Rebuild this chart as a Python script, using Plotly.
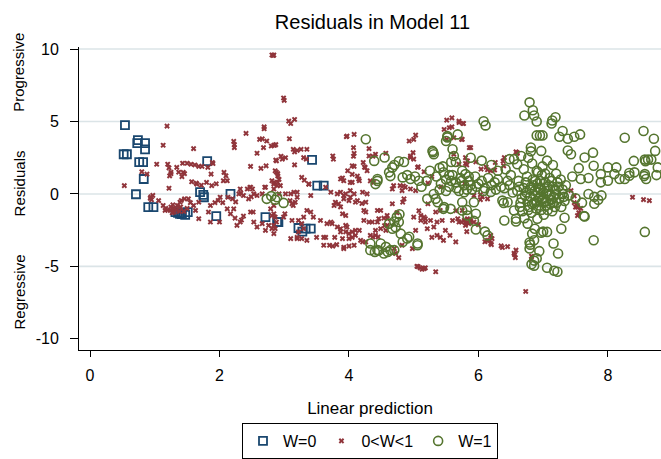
import plotly.graph_objects as go

# ---------------- data ----------------
TITLE = "Residuals in Model 11"
X_TITLE = "Linear prediction"
SIDE_LABELS = ["Progressive", "Residuals", "Regressive"]
SERIES_NAMES = ["W=0", "0<W<1", "W=1"]
Y_TICKS = [-10, -5, 0, 5, 10]
Y_TICKTEXT = ["-10", "-5", "0", "5", "10"]
X_TICKS = [0, 2, 4, 6, 8]
GRID_Y = [-5, 0, 5, 10]

# W=0 (hollow squares): (linear prediction, residual)
pts_w0 = [(0.54,4.75),(0.74,3.72),(0.85,3.5),(0.85,3.08),(0.73,3.5),(0.52,2.74),(0.57,2.74),
          (0.76,2.19),(0.82,2.19),(1.81,2.26),(0.83,1.03),(0.71,-0.02),(0.90,-0.91),(0.98,-0.91),
          (1.32,-1.25),(1.39,-1.37),(1.47,-1.44),(1.51,-1.25),(1.70,0.12),(1.75,-0.07),(1.76,-0.23),
          (2.17,0.0),(1.95,-1.53),(2.71,-1.6),(2.89,-1.94),(3.51,0.57),(3.61,0.57),(2.91,-1.94),
          (3.22,-2.35),(3.33,-2.4),(3.41,-2.4),(3.43,2.35),(1.36,-1.3),(1.42,-1.4),(3.28,-2.6)]

# 0<W<1 (small crosses)
pts_mid = [(2.81,9.59),(2.84,9.59),(2.83,9.55),
 (1.19,4.68),(1.13,3.36),(1.6,3.13),(2.41,4.18),(2.69,4.63),(2.69,4.5),(2.22,3.63),(2.23,3.4),(2.23,3.2),
 (2.62,3.77),(2.66,3.8),(2.73,3.65),(2.68,3.2),(2.8,3.31),(2.85,3.36),(2.58,2.81),(2.87,2.33),(1.03,2.05),
 (1.2,2.05),(1.22,1.8),(1.23,1.25),(1.25,1.4),(1.34,1.83),(1.43,2.12),(1.5,2.12),(1.56,2.05),(1.62,2.0),
 (1.68,1.9),(1.73,1.9),(1.44,1.49),(1.46,1.4),(1.42,1.19),(1.37,1.5),(1.25,1.5),(1.82,1.83),(1.89,2.17),
 (1.9,2.1),(1.87,1.37),(1.57,0.84),(1.64,0.75),(1.88,0.57),(2.07,1.49),(2.1,1.25),(2.06,0.91),(2.12,0.91),
 (2.48,1.9),(2.64,1.76),(2.72,1.94),(2.86,1.6),(2.9,1.4),(2.84,0.8),(2.7,0.46),(2.48,0.46),(2.32,0.34),
 (0.53,0.57),(0.8,1.53),(0.88,1.37),(1.22,0.39),
 (2.99,6.62),(3.0,6.46),(3.07,5.02),(3.1,4.86),(3.16,5.14),(3.08,3.81),(2.84,3.36),(2.87,3.4),(3.14,3.08),
 (3.2,3.0),(3.26,3.08),(3.35,3.08),(3.16,2.9),(3.02,2.5),(2.97,2.4),(2.95,2.6),(2.88,2.28),(3.16,2.01),
 (2.9,1.25),(2.92,1.0),(2.9,0.8),(2.88,1.5),(3.3,2.51),(3.34,2.4),(3.27,1.14),(3.31,0.95),(3.38,0.68),
 (3.75,2.62),(3.76,2.4),(3.96,3.95),(4.08,4.11),(4.07,3.2),(4.08,2.8),(4.07,2.6),(4.05,1.94),(4.08,1.9),
 (3.98,1.6),(4.05,1.35),(4.15,1.03),(3.87,1.03),(4.02,0.8),(4.22,2.17),(4.25,1.83),(4.31,3.13),(4.31,2.62),
 (4.28,1.6),(4.33,0.9),(4.38,0.8),(4.41,2.74),(4.57,2.81),(4.93,3.65),(5.03,4.06),(4.99,2.85),(4.95,2.51),
 (5.0,2.4),(5.07,1.87),(5.16,1.53),(5.28,1.2),(5.51,5.09),(5.59,5.25),(5.47,4.45),(5.59,4.63),(5.7,5.02),
 (5.76,4.86),(5.74,3.77),(5.51,3.77),(5.8,2.51),(5.86,3.2),(5.8,2.1),(5.7,2.05),
 (5.77,4.86),(5.75,3.77),(5.88,3.2),(5.96,2.21),(5.82,2.0),(6.04,1.71),(6.14,1.67),(6.26,2.17),(6.4,2.51),
 (6.39,1.94),(6.58,2.9),(6.6,2.8),(5.79,0.75),(6.19,1.6),(6.25,1.65),
 (1.65,0.68),(1.72,0.6),(1.8,0.8),(1.95,0.7),(0.94,-0.2),(0.97,-0.1),(0.95,-0.4),(0.93,-0.3),(1.06,-0.46),
 (1.13,-0.8),(1.17,-1.0),(1.2,-1.1),(1.24,-1.14),(1.16,-1.14),(1.25,-0.9),(1.3,-1.0),(1.33,-1.1),(1.39,-0.57),
 (1.41,-0.45),(1.52,-0.34),(1.46,-0.34),(1.6,-0.8),(1.63,-1.14),(1.68,-1.71),(1.68,-0.57),(1.86,-0.8),
 (1.83,-1.25),(1.86,-1.94),(2.0,-1.94),(1.93,-0.6),(1.98,-0.45),(2.01,-0.23),(2.05,-0.6),(2.12,-1.03),
 (2.13,-0.23),(2.2,-0.34),(2.25,-0.55),(2.22,-1.03),(2.17,-1.37),(2.24,-1.67),(2.32,-1.94),(2.27,-2.17),
 (2.34,-1.8),(2.37,-1.53),(2.3,0.0),(2.33,0.05),(2.37,-0.11),(2.43,0.34),(2.47,0.45),(2.51,0.34),(2.53,0.0),
 (2.49,-0.2),(2.45,-0.34),(2.58,-0.11),(2.48,-1.25),(2.52,-1.25),(2.53,-1.94),(2.58,-2.28),(2.66,-2.05),
 (2.71,-2.51),(2.79,-1.03),(2.84,-0.8),(2.76,-2.17),(2.81,-2.4),(2.84,-2.74),(2.66,0.0),(2.71,0.46),
 (2.84,0.68),(2.89,0.57),(2.84,0.34),(2.92,0.0),
 (1.28,-0.75),(1.35,-0.8),(1.38,-1.2),(1.3,-1.25),(1.45,-1.2),(1.5,-1.0),(1.27,-1.3),(1.4,-0.9),(1.55,-0.6),
 (2.81,0.91),(2.94,0.57),(3.02,0.0),(3.1,0.0),(3.15,0.12),(3.2,0.12),(3.2,-0.23),(3.17,-0.57),(3.12,-0.68),
 (3.14,-0.8),(3.09,-0.46),(2.84,-1.37),(2.86,-1.6),(2.81,-1.5),(2.88,-1.94),(2.84,-2.17),(2.86,-2.4),
 (2.99,-1.6),(3.01,-1.37),(3.12,-1.83),(3.22,-1.83),(3.27,-2.05),(3.3,-2.4),(3.22,-2.62),(3.2,-3.0),
 (3.27,-3.08),(3.35,-3.2),(3.1,-3.08),(3.2,-3.08),(3.5,-3.0),(3.61,-3.54),(3.7,-3.54),(3.75,-3.6),
 (3.81,-3.5),(3.92,-3.68),(4.0,-3.6),(4.08,-3.54),(4.18,-3.2),(4.26,-3.31),(4.37,-2.97),(4.45,-2.97),
 (3.61,-3.0),(3.64,-3.0),(3.78,-3.0),(3.9,-3.08),(4.0,-3.08),(4.05,-3.0),(3.3,-1.6),(3.35,-1.14),
 (3.41,-1.25),(3.45,-1.6),(3.56,-1.83),(3.66,-2.05),(3.72,-1.94),(3.74,-2.05),(3.82,-2.28),(3.87,-2.62),
 (3.95,-2.62),(4.0,-2.74),(4.05,-2.62),(4.1,-2.51),(4.16,-2.51),(3.95,-2.17),(3.97,-2.28),(4.23,-1.83),
 (4.31,-1.94),(4.26,-1.25),(4.23,-1.14),(4.26,-0.57),(4.1,-0.57),(4.13,-0.46),(4.02,-0.23),(4.0,-0.46),
 (3.92,-0.34),(3.84,-0.68),(3.79,-0.57),(3.77,-0.8),(3.9,-1.37),(3.95,-1.49),(3.82,0.0),(3.87,0.12),
 (3.95,0.0),(4.02,0.23),(4.08,0.0),(4.21,0.12),(4.28,0.0),(4.16,0.91),(4.05,0.8),(3.92,0.91),(3.38,0.68),
 (3.64,0.46),(3.72,0.12),(3.41,-0.11),
 (4.33,-2.86),(4.41,-2.51),(4.41,-2.86),(4.36,-1.94),(4.44,-1.94),(4.46,-1.71),(4.49,-2.4),(4.57,-2.51),
 (4.59,-2.17),(4.54,-1.67),(4.59,-1.71),(4.44,-1.14),(4.49,-1.14),(4.59,-1.49),(4.67,-0.68),
 (5.0,-1.6),(5.11,-1.49),(5.16,-1.6),(5.18,-1.71),(5.26,-1.83),(5.11,-1.83),(5.18,-1.94),(5.21,-2.4),
 (5.31,-2.28),(5.36,-1.94),(5.36,-2.86),(5.41,-3.0),(5.28,-3.0),(4.98,-3.77),(4.72,-4.11),(4.77,-4.4),
 (5.05,-5.0),(5.07,-5.02),(5.1,-5.1),(5.13,-5.2),(5.16,-5.15),(5.18,-5.1),(5.34,-5.37),(4.82,0.23),
 (4.87,0.46),(4.79,0.57),(4.95,0.34),(5.03,0.23),(4.67,0.34),(4.69,0.57),(4.85,-0.34),(4.83,-0.57),
 (5.34,-1.25),(5.41,-1.14),(5.6,-1.83),(5.68,-1.71),(5.7,-1.94),(5.78,-1.83),(5.83,-1.71),(5.88,-1.83),
 (5.49,-2.51),(5.56,-2.86),(5.46,-3.2),(5.8,-2.17),(5.85,-2.05),
 (5.8,0.68),(5.93,-0.11),(6.03,-0.05),(6.14,-0.34),(6.03,-0.39),(6.06,-0.2),(5.75,-1.14),(5.74,-1.94),
 (5.8,-2.0),(5.87,-1.94),(5.93,-1.94),(6.0,-2.12),(6.19,-2.86),(6.21,-3.08),(6.17,-3.2),(6.19,-3.42),
 (6.14,-3.2),(6.1,-3.3),(6.35,-3.58),(6.37,-3.7),(6.45,-3.64),(6.58,-3.88),(6.56,-4.2),(6.57,-4.4),
 (6.82,-4.3),(6.82,-4.52),(6.73,-6.73),(7.48,-0.6),(7.53,-0.8),(7.5,-0.91),(7.55,-1.3),(7.53,-1.5),
 (7.58,-1.0),(7.43,0.23),(8.38,-0.23),(8.64,-0.46),
 (3.97,3.99),(4.24,1.85),(4.37,2.6),(4.13,1.23),(3.9,1.1),(3.92,-0.11),(4.2,-0.66),(3.87,-0.89),
 (3.87,-2.4),(4.1,-2.86),(3.92,-3.77),(4.21,-3.31),(4.55,-2.19),(4.74,-1.3),(4.84,0.55),(5.08,-1.16),
 (5.03,-2.51),(4.82,-3.54),(4.7,-3.77),(5.0,3.77),(4.95,2.62),(5.06,1.83),(5.22,0.75),(5.22,-0.68),
 (5.42,0.48),(5.44,-1.83),(5.65,-1.16),(5.7,4.93),(5.55,4.57),(5.62,3.88),(5.62,2.74),(5.83,2.28),
 (6.12,1.85),(6.38,2.26),(6.6,2.85),(6.2,-3.5),(6.55,-4.1),(5.65,-3.31),(5.82,-2.6),(7.48,-0.14),
 (7.53,-0.91),(8.55,-0.39)]

# W=1 (hollow circles)
pts_w1 = [(2.73,-0.34),(2.80,-0.15),(2.89,-0.23),(2.99,-0.62),(2.86,-0.4),
 (4.26,3.77),(4.39,2.28),(4.55,2.51),(4.77,2.26),(4.70,2.0),(4.85,2.2),(4.67,1.83),(4.62,1.49),(4.64,1.23),
 (4.83,1.14),(4.95,1.03),(5.08,0.91),(5.02,1.2),(4.44,1.03),(4.41,0.68),(4.44,0.9),(4.9,1.3),
 (4.74,-1.58),(4.78,-1.4),(4.70,-1.9),(4.77,-1.94),(4.62,-2.05),(4.67,-2.4),(4.72,-2.3),(4.80,-2.74),
 (4.90,-3.08),(4.93,-2.95),(5.06,-3.54),(5.06,-3.42),(4.83,-3.31),(4.33,-3.42),(4.33,-3.88),(4.44,-3.88),
 (4.46,-3.9),(4.54,-4.11),(4.57,-3.65),(4.64,-3.88),(4.70,-3.88),(4.49,-3.42),(4.40,-4.0),(4.60,-4.0),
 (5.21,-0.34),(5.31,0.0),(5.37,-0.57),(5.34,-0.34),(5.47,-0.91),(5.46,-1.03),(5.57,-1.03),(5.75,-0.57),
 (5.78,0.12),(5.75,-1.14),(5.83,-1.49),(5.82,-1.1),(5.93,-1.85),(5.96,-1.37),(5.93,-0.57),(5.96,-2.45),
 (6.14,-2.86),(6.10,-2.6),
 (5.29,2.97),(5.31,2.74),(5.30,2.88),(5.52,3.99),(5.50,3.65),(5.68,4.11),(5.52,3.9),(5.60,3.08),(5.62,2.62),
 (5.65,2.2),(5.46,1.5),(5.40,1.8),(5.55,1.3),(5.80,1.37),(5.75,1.6),(5.85,1.2),
 (5.5,1.0),(5.55,0.5),(5.6,1.3),(5.65,0.8),(5.7,0.2),(5.72,1.1),(5.78,0.6),(5.85,0.9),(5.9,0.3),(5.95,1.2),
 (6.0,0.7),(6.05,0.9),(6.1,0.4),(6.15,1.1),(6.25,0.8),(6.3,1.0),(6.35,0.5),(6.45,0.9),(6.5,1.3),(5.35,1.2),
 (5.25,1.6),(5.2,0.9),(5.12,0.5),(5.4,0.3),(5.45,1.9),(5.58,2.2),(5.88,2.5),(6.05,2.3),(6.2,2.0),(6.3,1.6),
 (6.42,1.7),(6.55,2.4),(6.19,0.14),(6.39,-0.62),(6.37,-0.46),(6.45,-0.57),(6.55,-1.14),(6.58,-1.71),
 (6.58,-1.9),(6.4,-1.83),(6.71,-1.67),(6.76,-2.05),(6.91,-1.71),(6.77,-1.1),
 (5.42,0.7),(5.5,0.2),(5.58,0.9),(5.66,0.4),(5.74,0.9),(5.82,0.3),(5.88,0.6),(5.97,0.5),(6.08,0.2),
 (6.2,0.6),(6.27,0.3),(6.4,0.4),(6.48,0.6),(6.53,0.1),
 (6.79,6.32),(6.71,5.41),(6.84,5.77),(6.86,5.41),(6.90,5.0),(7.19,5.29),(7.13,4.86),(7.14,5.07),(6.08,5.02),
 (6.11,4.73),(6.90,4.04),(6.95,4.04),(6.99,4.04),(7.25,3.95),(7.30,4.34),(7.38,3.81),(7.48,3.95),(7.57,4.11),
 (8.26,3.88),(8.55,4.34),(8.71,3.81),(8.73,2.97),(7.77,2.85),(7.43,2.74),(7.38,3.0),(7.64,2.51),(6.81,3.2),
 (6.81,2.94),(6.97,2.97),(6.66,2.62),(6.48,2.4),(6.60,2.05),(7.78,1.94),(8.0,1.83),(8.13,1.83),(8.4,2.28),
 (8.57,2.37),(8.62,2.37),(8.67,2.37),(8.77,1.83),(8.75,1.3),(8.57,1.37),(8.41,1.49),(8.33,1.26),(8.18,1.03),
 (8.26,1.03),(8.59,1.03),(7.89,1.37),(7.89,0.8),(8.0,0.91),(8.1,1.37),(8.33,1.44),(8.56,1.23),(8.58,2.26),
 (6.92,1.5),(7.15,2.0),(7.55,1.78),(7.58,1.03),(7.45,1.2),(7.7,1.1),(7.79,-0.2),(7.79,-0.68),(7.7,0.0),
 (7.85,-0.4),(7.3,0.0),(7.5,-0.3),(7.6,-0.6),(7.9,-0.1),(7.33,-0.48),(7.01,-1.44),(7.33,-1.64),(7.28,-2.4),
 (7.0,-2.6),(6.79,-3.35),(6.86,-4.6),(7.17,-5.3),(7.06,-5.09),(7.22,-5.37),(6.82,-4.86),(6.86,-4.95),
 (6.94,-3.95),(6.90,-4.45),(6.86,-3.2),(6.79,-3.77),(6.80,-3.5),(7.06,-2.62),(6.97,-2.67),(6.83,-2.74),
 (6.87,-2.4),(7.23,-4.11),(7.16,-3.42),(7.63,-1.53),(7.78,-3.2),(8.57,-2.62),(7.64,-1.55),
 (6.62,0.9),(6.7,0.4),(6.75,1.2),(6.8,-0.2),(6.85,0.6),(6.9,-0.5),(6.92,0.1),(6.95,0.9),(7.0,-0.3),
 (7.02,0.4),(7.05,-0.8),(7.08,0.2),(7.1,1.1),(7.12,-0.4),(7.15,0.5),(7.18,-0.9),(7.2,0.0),(7.22,0.8),
 (7.25,-0.3),(7.3,0.3),(6.65,-0.6),(6.72,-0.1),(6.78,-0.9),(6.82,-1.3),(6.88,-0.1),(6.97,-1.1),(7.03,1.4),
 (6.6,0.2),(6.68,-1.2),(7.14,-1.2),(6.9,1.6),(6.99,1.9),(7.06,2.3),(6.83,2.1),(6.7,1.7),(6.77,2.5),(7.2,1.4),
 (7.28,-0.9),(6.93,0.4),(6.86,-0.6),(7.1,-0.1),(6.95,-0.2),(7.0,0.1),(7.04,-0.5),
 (6.63,0.5),(6.67,-0.3),(6.73,0.8),(6.76,-0.5),(6.79,0.3),(6.83,-0.7),(6.84,1.0),(6.87,0.2),(6.89,-1.0),
 (6.91,0.7),(6.94,-0.8),(6.96,0.3),(6.98,1.3),(7.01,-0.6),(7.03,0.8),(7.05,0.0),(7.07,-1.1),(7.09,0.6),
 (7.11,-0.7),(7.13,0.9),(7.16,-0.2),(7.19,0.3),(7.21,-0.6),(7.24,0.5),(7.27,1.0),(7.32,-0.2),(6.74,0.1),
 (6.81,0.5),(6.98,-0.4),(7.06,0.5),(6.88,0.9),(6.93,-0.3),(7.15,-0.6),(6.64,-0.9),(7.35,0.6),(7.4,-0.1)]

# ---------------- figure ----------------
FONT = "Liberation Sans, Arial, Helvetica, sans-serif"
NAVY, MAROON, GREEN = "#1a476f", "#90353b", "#55752f"

x0, y0 = zip(*pts_w0)
xm, ym = zip(*pts_mid)
x1, y1 = zip(*pts_w1)

fig = go.Figure()
fig.add_trace(go.Scatter(x=x0, y=y0, mode="markers", name=SERIES_NAMES[0],
                         marker=dict(symbol="square-open", size=8, color=NAVY, line=dict(width=1.8))))
fig.add_trace(go.Scatter(x=xm, y=ym, mode="markers", name=SERIES_NAMES[1],
                         marker=dict(symbol="x", size=5, color=MAROON, line=dict(width=0))))
fig.add_trace(go.Scatter(x=x1, y=y1, mode="markers", name=SERIES_NAMES[2],
                         marker=dict(symbol="circle-open", size=9, color=GREEN, line=dict(width=1.6))))

for gy in GRID_Y:
    fig.add_shape(type="line", xref="paper", x0=0, x1=1, yref="y", y0=gy, y1=gy,
                  line=dict(color="#dbe4e7", width=1.6), layer="below")

side_pos = [0.915, 0.55, 0.19]
for txt, yp in zip(SIDE_LABELS, side_pos):
    fig.add_annotation(text=txt, xref="paper", yref="paper", x=-0.103, y=yp,
                       textangle=-90, showarrow=False, xanchor="center", yanchor="middle",
                       font=dict(size=15, color="#000000", family=FONT))

fig.update_layout(
    width=661, height=459,
    margin=dict(l=79, r=0, t=47, b=106),
    paper_bgcolor="white", plot_bgcolor="white",
    font=dict(family=FONT, color="#000000"),
    title=dict(text=TITLE, x=0.5635, xref="container", xanchor="center",
               y=1 - 22 / 459, yref="container", yanchor="middle",
               font=dict(size=20, family=FONT, color="#000000")),
    showlegend=True,
    legend=dict(orientation="h", x=0.5, xanchor="center", y=-0.242, yanchor="top",
                bordercolor="#000000", borderwidth=1, bgcolor="white",
                font=dict(size=16, family=FONT), itemsizing="trace",
                traceorder="normal"),
    xaxis=dict(range=[-0.17, 8.82], tickvals=X_TICKS, showgrid=False, zeroline=False,
               showline=True, linecolor="#000000", linewidth=1,
               ticks="outside", ticklen=6, tickcolor="#000000", ticklabelstandoff=5,
               tickfont=dict(size=16), title=dict(text=X_TITLE, font=dict(size=17), standoff=18)),
    yaxis=dict(range=[-10.77, 10.14], tickvals=Y_TICKS, ticktext=Y_TICKTEXT, showgrid=False,
               zeroline=False, showline=True, linecolor="#000000", linewidth=1,
               ticks="outside", ticklen=8, tickcolor="#000000", ticklabelstandoff=8,
               tickfont=dict(size=16)),
)

fig.write_html("out.html")
